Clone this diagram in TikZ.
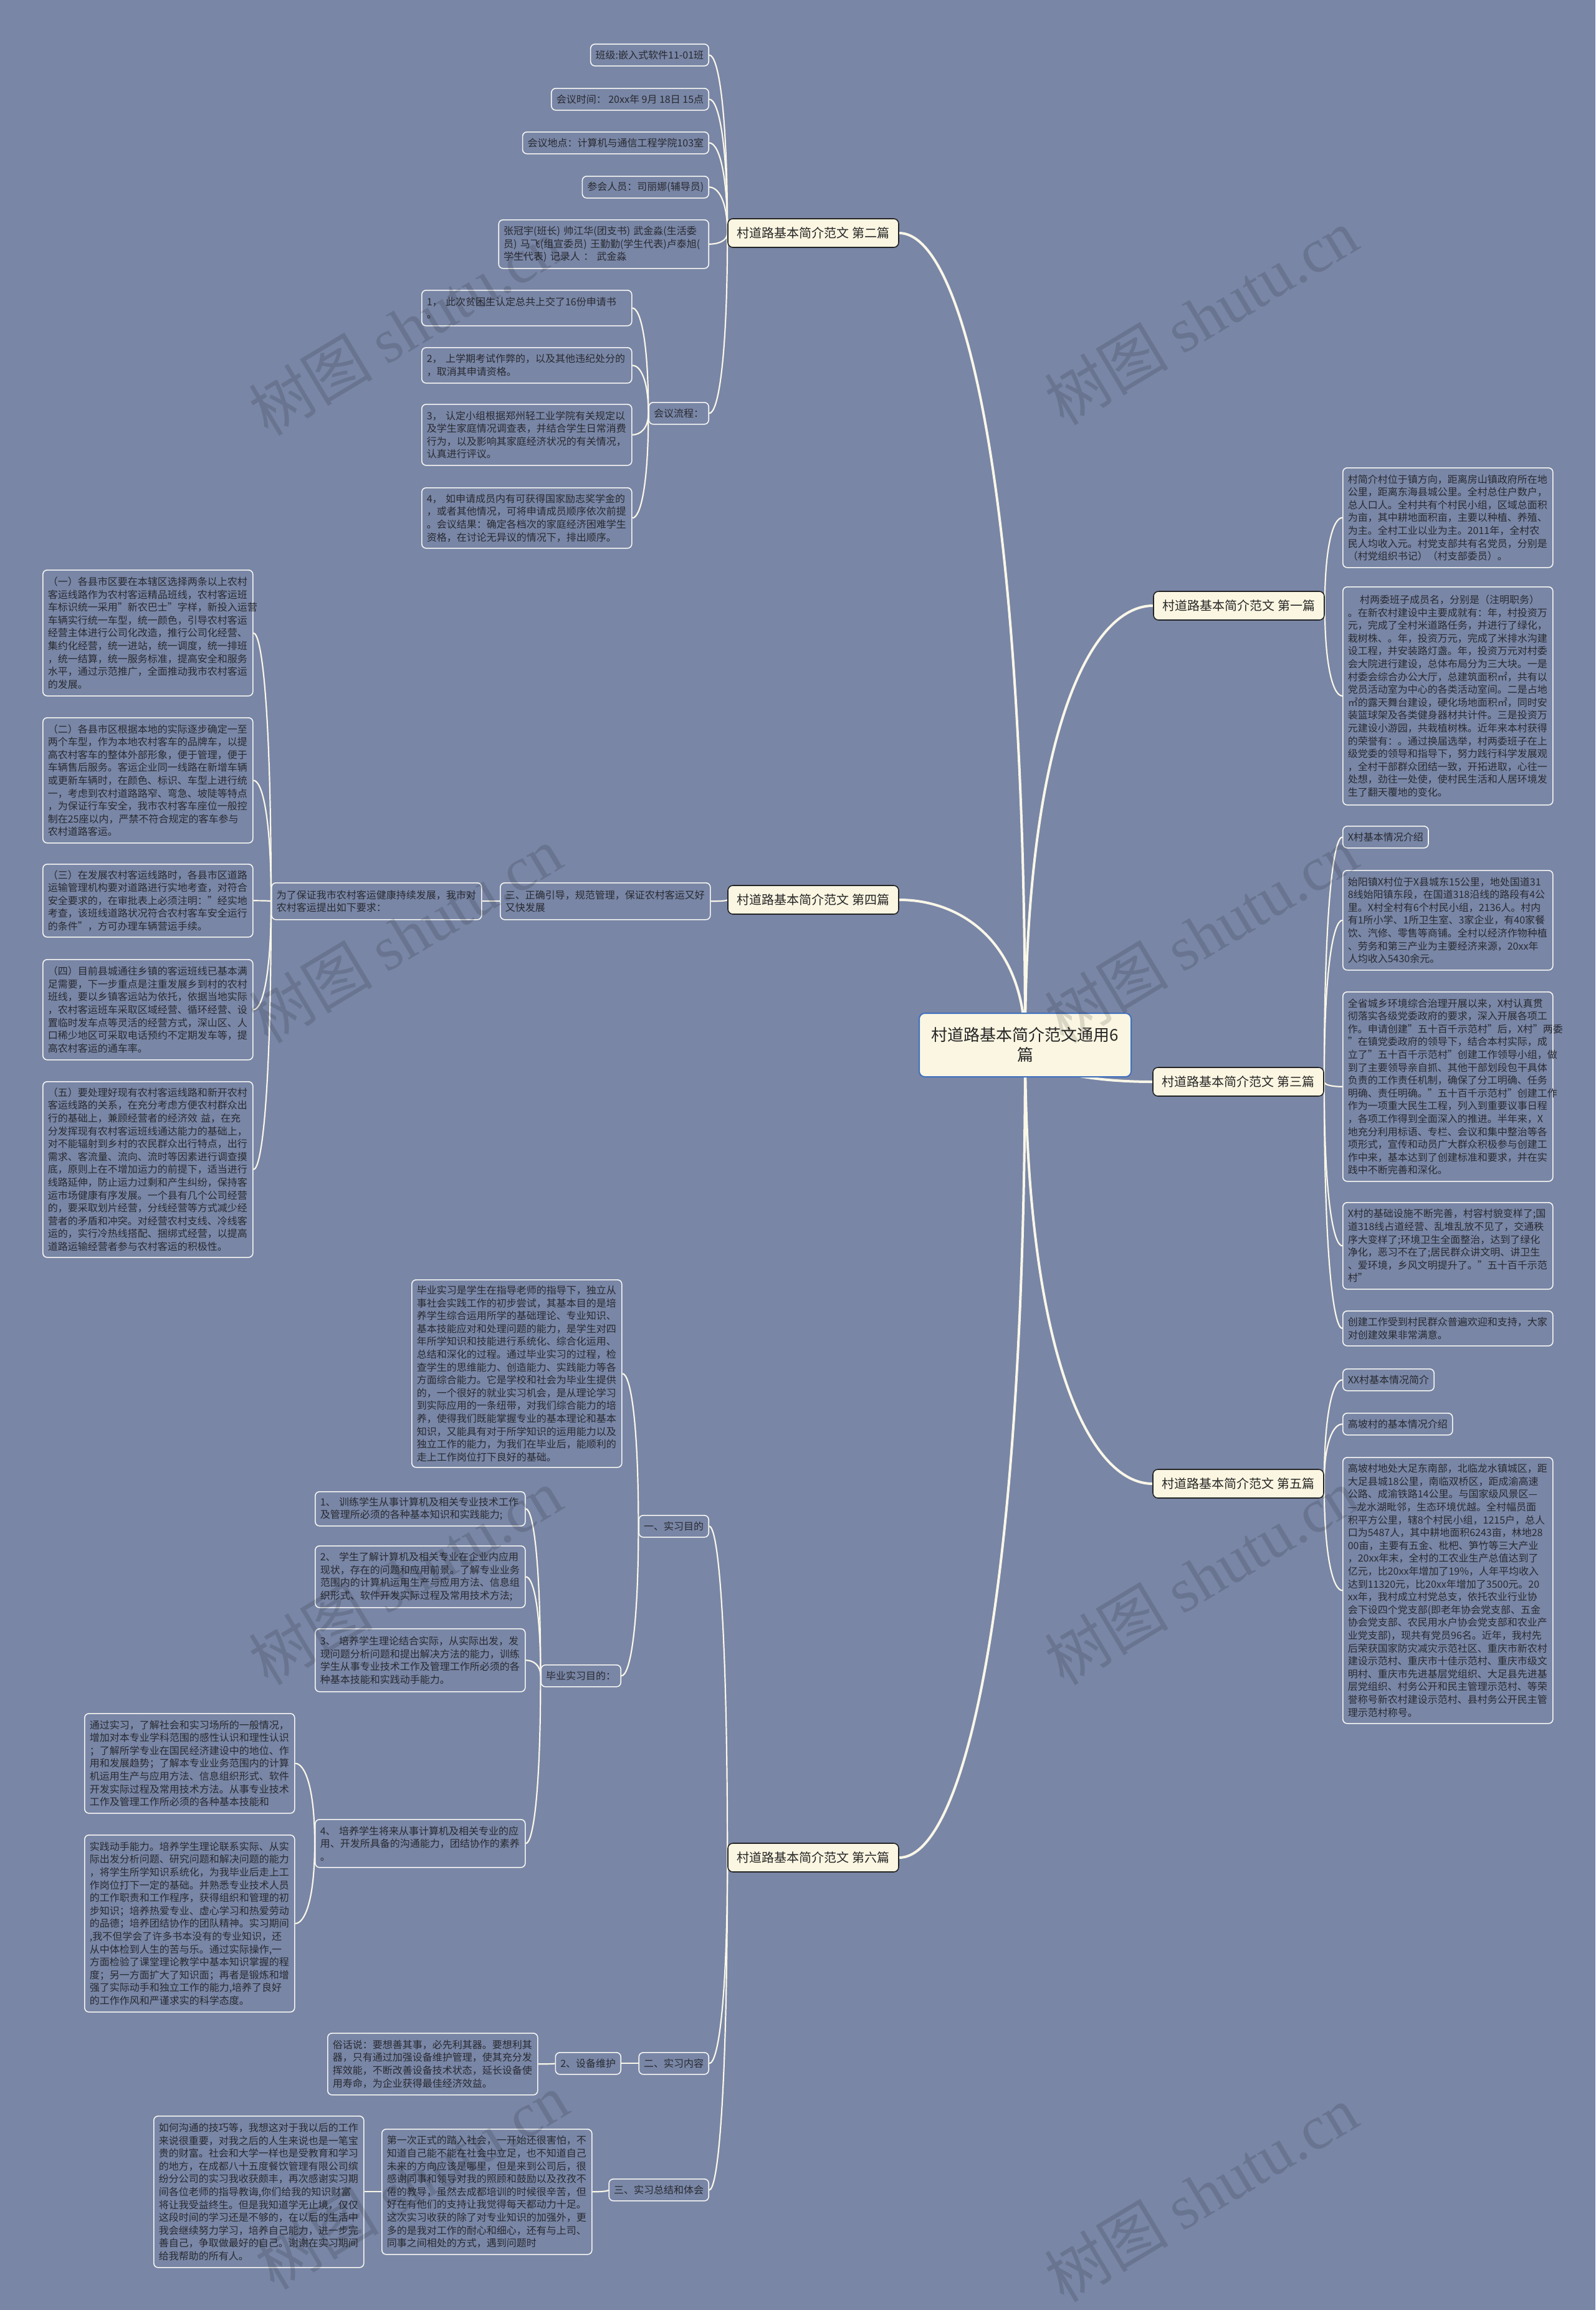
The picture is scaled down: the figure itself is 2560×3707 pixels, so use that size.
\documentclass[tikz,border=0pt]{standalone}
\usepackage{fontspec}
\setmainfont{Noto Sans CJK SC}
\newfontfamily\wmlatin{Liberation Serif}
\usetikzlibrary{calc}
\definecolor{bgc}{RGB}{121,134,166}
\definecolor{leafline}{RGB}{246,246,242}
\definecolor{leaftext}{RGB}{40,42,48}
\definecolor{linkc}{RGB}{250,247,232}
\definecolor{creamc}{RGB}{251,246,226}
\definecolor{brline}{RGB}{35,35,35}
\definecolor{rootline}{RGB}{64,112,190}
\pgfdeclarelayer{bgfill}
\pgfdeclarelayer{links}
\pgfsetlayers{bgfill,links,main}
\newcommand\mmconn[3][link]{\draw[#1] let \p1=(#2), \p2=(#3) in (\p1) .. controls (\x1,{\y2+0.3*(\y1-\y2)}) and ({\x1+0.5*(\x2-\x1)},\y2) .. (\p2);}
\begin{document}
\begin{tikzpicture}[x=1pt,y=-1pt,
 leaf/.style={draw=leafline, line width=1.6pt, rounded corners=7pt, fill=bgc, text=leaftext, font=\fontsize{16}{20.6}\selectfont, align=left, inner xsep=8pt, inner ysep=8pt},
 para/.style={leaf, text width=321pt, minimum height=#1},
 tag/.style={leaf, minimum height=35pt},
 branch/.style={draw=brline, line width=1.6pt, rounded corners=8pt, fill=creamc, text=black!85, font=\fontsize{20}{24}\selectfont, minimum width=274pt, minimum height=46pt},
 rootbox/.style={draw=rootline, line width=2pt, rounded corners=9pt, fill=creamc, text=black!85, font=\fontsize{26}{32}\selectfont, align=center, minimum width=340pt, minimum height=102pt},
 link/.style={draw=linkc, line width=2.2pt},
 mainlink/.style={draw=linkc, line width=4pt},
 wm/.style={rotate=31, text=black, text opacity=0.13, font=\fontsize{100}{110}\selectfont}
]
\begin{pgfonlayer}{bgfill}
\fill[bgc] (0,0) rectangle (2560,3707);
\end{pgfonlayer}
\useasboundingbox (0,0) rectangle (2560,3707);

% root and branches
\node[rootbox] (R) at (1645,1677) {村道路基本简介范文通用6\\篇};
\node[branch] (B2) at (1305,374) {村道路基本简介范文 第二篇};
\node[branch] (B4) at (1305,1444) {村道路基本简介范文 第四篇};
\node[branch] (B6) at (1305,2981) {村道路基本简介范文 第六篇};
\node[branch] (B1) at (1988,972) {村道路基本简介范文 第一篇};
\node[branch] (B3) at (1987,1736) {村道路基本简介范文 第三篇};
\node[branch] (B5) at (1987,2381) {村道路基本简介范文 第五篇};

% second
\node[tag, anchor=north east] (n21) at (1138,70) {班级:嵌入式软件11-01班};
\node[tag, anchor=north east] (n22) at (1138,141) {会议时间： 20xx年 9月 18日 15点};
\node[tag, anchor=north east] (n23) at (1138,211) {会议地点：计算机与通信工程学院103室};
\node[tag, anchor=north east] (n24) at (1138,282) {参会人员：司丽娜(辅导员)};
\node[para=78pt, anchor=north east] (n25) at (1138,352) {张冠宇(班长) 帅江华(团支书) 武金淼(生活委\\员) 马飞(组宣委员) 王勤勤(学生代表)卢泰旭(\\学生代表) 记录人 ： 武金淼};
\node[tag, anchor=north east] (n26) at (1138,645) {会议流程：};
\node[para=57pt, anchor=north west] (n261) at (676,465) {1， 此次贫困生认定总共上交了16份申请书\\。};
\node[para=57pt, anchor=north west] (n262) at (676,557) {2， 上学期考试作弊的，以及其他违纪处分的\\，取消其申请资格。};
\node[para=98pt, anchor=north west] (n263) at (676,648) {3， 认定小组根据郑州轻工业学院有关规定以\\及学生家庭情况调查表，并结合学生日常消费\\行为，以及影响其家庭经济状况的有关情况，\\认真进行评议。};
\node[para=97pt, anchor=north west] (n264) at (676,782) {4， 如申请成员内有可获得国家励志奖学金的\\，或者其他情况，可将申请成员顺序依次前提\\。会议结果：确定各档次的家庭经济困难学生\\资格，在讨论无异议的情况下，排出顺序。};

% fourth
\node[para=59pt, anchor=north west] (n41) at (802,1416) {三、正确引导，规范管理，保证农村客运又好\\又快发展};
\node[para=59pt, anchor=north west] (n42) at (435,1416) {为了保证我市农村客运健康持续发展，我市对\\农村客运提出如下要求：};
\node[para=202pt, anchor=north west] (n431) at (68,914) {（一）各县市区要在本辖区选择两条以上农村\\客运线路作为农村客运精品班线，农村客运班\\车标识统一采用"新农巴士"字样，新投入运营\\车辆实行统一车型，统一颜色，引导农村客运\\经营主体进行公司化改造，推行公司化经营、\\集约化经营，统一进站，统一调度，统一排班\\，统一结算，统一服务标准，提高安全和服务\\水平，通过示范推广，全面推动我市农村客运\\的发展。};
\node[para=201pt, anchor=north west] (n432) at (68,1151) {（二）各县市区根据本地的实际逐步确定一至\\两个车型，作为本地农村客车的品牌车，以提\\高农村客车的整体外部形象，便于管理，便于\\车辆售后服务。客运企业同一线路在新增车辆\\或更新车辆时，在颜色、标识、车型上进行统\\一，考虑到农村道路路窄、弯急、坡陡等特点\\，为保证行车安全，我市农村客车座位一般控\\制在25座以内，严禁不符合规定的客车参与\\农村道路客运。};
\node[para=117pt, anchor=north west] (n433) at (68,1386) {（三）在发展农村客运线路时，各县市区道路\\运输管理机构要对道路进行实地考查，对符合\\安全要求的，在审批表上必须注明："经实地\\考查，该班线道路状况符合农村客车安全运行\\的条件"，方可办理车辆营运手续。};
\node[para=161pt, anchor=north west] (n434) at (68,1539) {（四）目前县城通往乡镇的客运班线已基本满\\足需要，下一步重点是注重发展乡到村的农村\\班线，要以乡镇客运站为依托，依据当地实际\\，农村客运班车采取区域经营、循环经营、设\\置临时发车点等灵活的经营方式，深山区、人\\口稀少地区可采取电话预约不定期发车等，提\\高农村客运的通车率。};
\node[para=282pt, anchor=north west] (n435) at (68,1735) {（五）要处理好现有农村客运线路和新开农村\\客运线路的关系，在充分考虑方便农村群众出\\行的基础上，兼顾经营者的经济效 益，在充\\分发挥现有农村客运班线通达能力的基础上，\\对不能辐射到乡村的农民群众出行特点，出行\\需求、客流量、流向、流时等因素进行调查摸\\底，原则上在不增加运力的前提下，适当进行\\线路延伸，防止运力过剩和产生纠纷，保持客\\运市场健康有序发展。一个县有几个公司经营\\的，要采取划片经营，分线经营等方式减少经\\营者的矛盾和冲突。对经营农村支线、冷线客\\运的，实行冷热线搭配、捆绑式经营，以提高\\道路运输经营者参与农村客运的积极性。};

% first
\node[para=160pt, anchor=north west] (n11) at (2154,750) {村简介村位于镇方向，距离房山镇政府所在地\\公里，距离东海县城公里。全村总住户数户，\\总人口人。全村共有个村民小组，区域总面积\\为亩，其中耕地面积亩，主要以种植、养殖、\\为主。全村工业以业为主。2011年，全村农\\民人均收入元。村党支部共有名党员，分别是\\（村党组织书记）（村支部委员）。};
\node[para=350pt, anchor=north west] (n12) at (2154,941) {\hspace*{1.2em}村两委班子成员名，分别是（注明职务）\\。在新农村建设中主要成就有：年，村投资万\\元，完成了全村米道路任务，并进行了绿化，\\栽树株、。年，投资万元，完成了米排水沟建\\设工程，并安装路灯盏。年，投资万元对村委\\会大院进行建设，总体布局分为三大块。一是\\村委会综合办公大厅，总建筑面积㎡，共有以\\党员活动室为中心的各类活动室间。二是占地\\㎡的露天舞台建设，硬化场地面积㎡，同时安\\装篮球架及各类健身器材共计件。三是投资万\\元建设小游园，共栽植树株。近年来本村获得\\的荣誉有：。通过换届选举，村两委班子在上\\级党委的领导和指导下，努力践行科学发展观\\，全村干部群众团结一致，开拓进取，心往一\\处想，劲往一处使，使村民生活和人居环境发\\生了翻天覆地的变化。};

% third
\node[tag, anchor=north west] (n31) at (2154,1325) {X村基本情况介绍};
\node[para=160pt, anchor=north west] (n32) at (2154,1396) {始阳镇X村位于X县城东15公里，地处国道31\\8线始阳镇东段，在国道318沿线的路段有4公\\里。X村全村有6个村民小组，2136人。村内\\有1所小学、1所卫生室、3家企业，有40家餐\\饮、汽修、零售等商铺。全村以经济作物种植\\、劳务和第三产业为主要经济来源，20xx年\\人均收入5430余元。};
\node[para=304pt, anchor=north west] (n33) at (2154,1591) {全省城乡环境综合治理开展以来，X村认真贯\\彻落实各级党委政府的要求，深入开展各项工\\作。申请创建"五十百千示范村"后，X村"两委\\"在镇党委政府的领导下，结合本村实际，成\\立了"五十百千示范村"创建工作领导小组，做\\到了主要领导亲自抓、其他干部划段包干具体\\负责的工作责任机制，确保了分工明确、任务\\明确、责任明确。"五十百千示范村"创建工作\\作为一项重大民生工程，列入到重要议事日程\\，各项工作得到全面深入的推进。半年来，X\\地充分利用标语、专栏、会议和集中整治等各\\项形式，宣传和动员广大群众积极参与创建工\\作中来，基本达到了创建标准和要求，并在实\\践中不断完善和深化。};
\node[para=139pt, anchor=north west] (n34) at (2154,1929) {X村的基础设施不断完善，村容村貌变样了;国\\道318线占道经营、乱堆乱放不见了，交通秩\\序大变样了;环境卫生全面整治，达到了绿化\\净化，恶习不在了;居民群众讲文明、讲卫生\\、爱环境，乡风文明提升了。"五十百千示范\\村"};
\node[para=56pt, anchor=north west] (n35) at (2154,2103) {创建工作受到村民群众普遍欢迎和支持，大家\\对创建效果非常满意。};

% fifth
\node[tag, anchor=north west] (n51) at (2154,2196) {XX村基本情况简介};
\node[tag, anchor=north west] (n52) at (2154,2267) {高坡村的基本情况介绍};
\node[para=427pt, anchor=north west] (n53) at (2154,2338) {高坡村地处大足东南部，北临龙水镇城区，距\\大足县城18公里，南临双桥区，距成渝高速\\公路、成渝铁路14公里。与国家级风景区—\\—龙水湖毗邻，生态环境优越。全村幅员面\\积平方公里，辖8个村民小组，1215户，总人\\口为5487人，其中耕地面积6243亩，林地28\\00亩，主要有五金、枇杷、笋竹等三大产业\\，20xx年末，全村的工农业生产总值达到了\\亿元，比20xx年增加了19\%，人年平均收入\\达到11320元，比20xx年增加了3500元。20\\xx年，我村成立村党总支，依托农业行业协\\会下设四个党支部(即老年协会党支部、五金\\协会党支部、农民用水户协会党支部和农业产\\业党支部)，现共有党员96名。近年，我村先\\后荣获国家防灾减灾示范社区、重庆市新农村\\建设示范村、重庆市十佳示范村、重庆市级文\\明村、重庆市先进基层党组织、大足县先进基\\层党组织、村务公开和民主管理示范村、等荣\\誉称号新农村建设示范村、县村务公开民主管\\理示范村称号。};

% sixth
\node[tag, anchor=north east] (n61) at (1138,2431) {一、实习目的};
\node[para=301pt, anchor=north west] (n611) at (660,2053) {毕业实习是学生在指导老师的指导下，独立从\\事社会实践工作的初步尝试，其基本目的是培\\养学生综合运用所学的基础理论、专业知识、\\基本技能应对和处理问题的能力，是学生对四\\年所学知识和技能进行系统化、综合化运用、\\总结和深化的过程。通过毕业实习的过程，检\\查学生的思维能力、创造能力、实践能力等各\\方面综合能力。它是学校和社会为毕业生提供\\的，一个很好的就业实习机会，是从理论学习\\到实际应用的一条纽带，对我们综合能力的培\\养，使得我们既能掌握专业的基本理论和基本\\知识，又能具有对于所学知识的运用能力以及\\独立工作的能力，为我们在毕业后，能顺利的\\走上工作岗位打下良好的基础。};
\node[tag, anchor=north east] (n612) at (997,2671) {毕业实习目的：};
\node[para=55pt, anchor=north west] (n6121) at (505,2393) {1、 训练学生从事计算机及相关专业技术工作\\及管理所必须的各种基本知识和实践能力;};
\node[para=99pt, anchor=north west] (n6122) at (505,2480) {2、 学生了解计算机及相关专业在企业内应用\\现状，存在的问题和应用前景。了解专业业务\\范围内的计算机运用生产与应用方法、信息组\\织形式、软件开发实际过程及常用技术方法;};
\node[para=101pt, anchor=north west] (n6123) at (505,2613) {3、 培养学生理论结合实际，从实际出发，发\\现问题分析问题和提出解决方法的能力，训练\\学生从事专业技术工作及管理工作所必须的各\\种基本技能和实践动手能力。};
\node[para=77pt, anchor=north west] (n6124) at (505,2919) {4、 培养学生将来从事计算机及相关专业的应\\用、开发所具备的沟通能力，团结协作的素养\\。};
\node[para=160pt, anchor=north west] (n61241) at (135,2749) {通过实习，了解社会和实习场所的一般情况，\\增加对本专业学科范围的感性认识和理性认识\\；了解所学专业在国民经济建设中的地位、作\\用和发展趋势；了解本专业业务范围内的计算\\机运用生产与应用方法、信息组织形式、软件\\开发实际过程及常用技术方法。从事专业技术\\工作及管理工作所必须的各种基本技能和};
\node[para=284pt, anchor=north west] (n61242) at (135,2944) {实践动手能力。培养学生理论联系实际、从实\\际出发分析问题、研究问题和解决问题的能力\\，将学生所学知识系统化，为我毕业后走上工\\作岗位打下一定的基础。并熟悉专业技术人员\\的工作职责和工作程序，获得组织和管理的初\\步知识；培养热爱专业、虚心学习和热爱劳动\\的品德；培养团结协作的团队精神。实习期间\\,我不但学会了许多书本没有的专业知识，还\\从中体检到人生的苦与乐。通过实际操作,一\\方面检验了课堂理论教学中基本知识掌握的程\\度；另一方面扩大了知识面；再者是锻炼和增\\强了实际动手和独立工作的能力,培养了良好\\的工作作风和严谨求实的科学态度。};
\node[tag, anchor=north east] (n62) at (1138,3293) {二、实习内容};
\node[tag, anchor=north east] (n621) at (997,3293) {2、设备维护};
\node[para=99pt, anchor=north west] (n6211) at (525,3262) {俗话说：要想善其事，必先利其器。要想利其\\器，只有通过加强设备维护管理，使其充分发\\挥效能，不断改善设备技术状态，延长设备使\\用寿命，为企业获得最佳经济效益。};
\node[tag, anchor=north east] (n63) at (1138,3496) {三、实习总结和体会};
\node[para=201pt, anchor=north west] (n631) at (612,3416) {第一次正式的踏入社会，一开始还很害怕，不\\知道自己能不能在社会中立足，也不知道自己\\未来的方向应该是哪里，但是来到公司后，很\\感谢同事和领导对我的照顾和鼓励以及孜孜不\\倦的教导，虽然去成都培训的时候很辛苦，但\\好在有他们的支持让我觉得每天都动力十足。\\这次实习收获的除了对专业知识的加强外，更\\多的是我对工作的耐心和细心，还有与上司、\\同事之间相处的方式，遇到问题时};
\node[para=243pt, anchor=north west] (n6311) at (246,3395) {如何沟通的技巧等，我想这对于我以后的工作\\来说很重要，对我之后的人生来说也是一笔宝\\贵的财富。社会和大学一样也是受教育和学习\\的地方，在成都八十五度餐饮管理有限公司缤\\纷分公司的实习我收获颇丰，再次感谢实习期\\间各位老师的指导教诲,你们给我的知识财富\\将让我受益终生。但是我知道学无止境，仅仅\\这段时间的学习还是不够的，在以后的生活中\\我会继续努力学习，培养自己能力，进一步完\\善自己，争取做最好的自己。谢谢在实习期间\\给我帮助的所有人。};

\begin{pgfonlayer}{links}
\mmconn[mainlink]{R.center}{B2.east}
\mmconn[mainlink]{R.center}{B4.east}
\mmconn[mainlink]{R.center}{B6.east}
\mmconn[mainlink]{R.center}{B1.west}
\mmconn[mainlink]{R.center}{B3.west}
\mmconn[mainlink]{R.center}{B5.west}
\foreach \c in {n21,n22,n23,n24,n25,n26} {\mmconn{B2.west}{\c.east}}
\foreach \c in {n261,n262,n263,n264} {\mmconn{n26.west}{\c.east}}
\mmconn{B4.west}{n41.east}
\mmconn{n41.west}{n42.east}
\foreach \c in {n431,n432,n433,n434,n435} {\mmconn{n42.west}{\c.east}}
\foreach \c in {n11,n12} {\mmconn{B1.east}{\c.west}}
\foreach \c in {n31,n32,n33,n34,n35} {\mmconn{B3.east}{\c.west}}
\foreach \c in {n51,n52,n53} {\mmconn{B5.east}{\c.west}}
\foreach \c in {n61,n62,n63} {\mmconn{B6.west}{\c.east}}
\foreach \c in {n611,n612} {\mmconn{n61.west}{\c.east}}
\foreach \c in {n6121,n6122,n6123,n6124} {\mmconn{n612.west}{\c.east}}
\foreach \c in {n61241,n61242} {\mmconn{n6124.west}{\c.east}}
\mmconn{n62.west}{n621.east}
\mmconn{n621.west}{n6211.east}
\mmconn{n63.west}{n631.east}
\mmconn{n631.west}{n6311.east}
\end{pgfonlayer}

% watermarks
\node[wm] (w1) at (650,525) {树图 {\wmlatin shutu.cn}};
\node[wm] (w2) at (1927,508) {树图 {\wmlatin shutu.cn}};
\node[wm] (w3) at (650,1500) {树图 {\wmlatin shutu.cn}};
\node[wm] (w4) at (1927,1500) {树图 {\wmlatin shutu.cn}};
\node[wm] (w5) at (650,2530) {树图 {\wmlatin shutu.cn}};
\node[wm] (w6) at (1927,2530) {树图 {\wmlatin shutu.cn}};
\node[wm] (w7) at (660,3500) {树图 {\wmlatin shutu.cn}};
\node[wm] (w8) at (1927,3520) {树图 {\wmlatin shutu.cn}};
\end{tikzpicture}
\end{document}
